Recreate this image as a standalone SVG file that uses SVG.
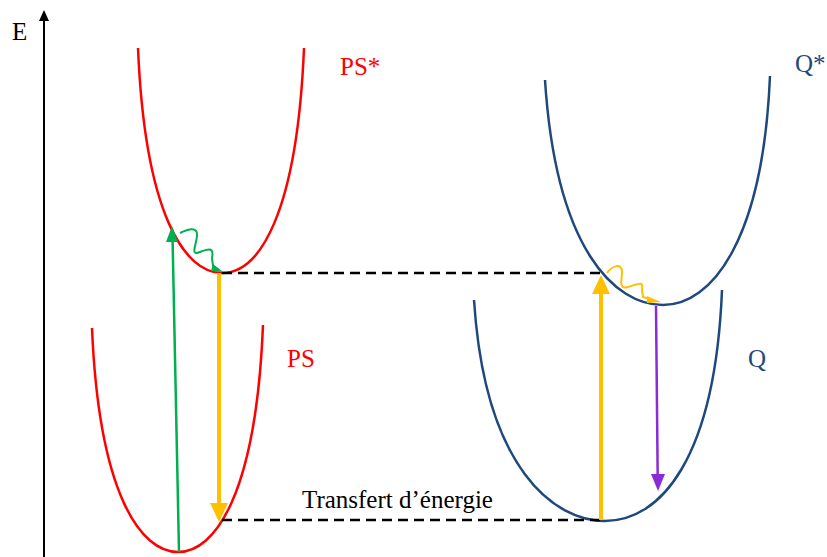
<svg xmlns="http://www.w3.org/2000/svg" width="827" height="557" viewBox="0 0 827 557">
<defs>
<style>
.red{fill:none;stroke:#FF0000;stroke-width:2.5}
.blue{fill:none;stroke:#1F497D;stroke-width:2.5}
.dash{fill:none;stroke:#000;stroke-width:2.5;stroke-dasharray:10 6}
.lbl{font-family:"Liberation Serif","Times New Roman",serif;font-size:25px}
</style>
<marker id="axh" markerWidth="10" markerHeight="10" refX="5" refY="5" orient="auto" markerUnits="userSpaceOnUse" viewBox="0 0 10 10"><path d="M0,10 L5,0 L10,10 Z" fill="#000"/></marker>
</defs>
<rect width="827" height="557" fill="#fff"/>
<g id="axis">
<line x1="44" y1="557" x2="44" y2="20" stroke="#000" stroke-width="2"/>
<path d="M39,21 L44,10 L49,21 Z" fill="#000"/>
<text class="lbl" x="12" y="40" font-size="23">E</text>
</g>
<g id="PSstar">
<path class="red" d="M138,48 C 145,215 185,273 222,273 C 259,273 297,215 304,48"/>
<text class="lbl" x="340" y="75" fill="#FF0000">PS*</text>
</g>
<g id="PS">
<path class="red" d="M92,328 C 99,495 141,552 178,552 C 215,552 256,495 263,325"/>
<text class="lbl" x="287" y="367" fill="#FF0000">PS</text>
</g>
<g id="Qstar">
<path class="blue" d="M545,80 C 556,250 615,305 663,305 C 712,305 763,240 770,76"/>
<text class="lbl" x="795" y="72" fill="#1F497D">Q*</text>
</g>
<g id="Q">
<path class="blue" d="M474,300 C 485,470 555,521 605,521 C 660,521 715,460 722,290"/>
<text class="lbl" x="748" y="367" fill="#1F497D">Q</text>
</g>
<g id="connectors">
<line class="dash" x1="222" y1="273" x2="603" y2="273"/>
<line class="dash" x1="222" y1="520" x2="600" y2="520"/>
<text class="lbl" x="302" y="508" fill="#000" font-size="24">Transfert d’énergie</text>
<!-- green excitation -->
<line x1="179" y1="552" x2="172.5" y2="236" stroke="#00B050" stroke-width="2.5"/>
<path d="M166,242 L172,226 L178,242 Z" fill="#00B050"/>
<path d="M180,233 C 188,229 198,226 197,236 C 196,246 190,256 200,252 C 210,248 214,248 212,258 L 213,266 L 219,270" fill="none" stroke="#00B050" stroke-width="2"/>
<path d="M213,264 L223,272 L211,271 Z" fill="#00B050"/>
<!-- orange down -->
<line x1="219" y1="273" x2="219" y2="505" stroke="#FFC000" stroke-width="4"/>
<path d="M210,503 L219,522 L228,503 Z" fill="#FFC000"/>
<!-- orange up -->
<line x1="601" y1="520" x2="601" y2="292" stroke="#FFC000" stroke-width="4"/>
<path d="M592,294 L601,275 L610,294 Z" fill="#FFC000"/>
<!-- orange wavy -->
<path d="M607,273 C 612,266 622,262 622,272 C 622,280 618,290 628,287 C 638,284 644,280 642,290 L 643,297 L 652,300" fill="none" stroke="#FFC000" stroke-width="2"/>
<path d="M647,296 L661,302 L647,303 Z" fill="#FFC000"/>
<!-- purple -->
<line x1="656" y1="306" x2="657.7" y2="478" stroke="#8B2BD6" stroke-width="2.5"/>
<path d="M651,474 L658,491 L665,474 Z" fill="#8B2BD6"/>
</g>
</svg>
